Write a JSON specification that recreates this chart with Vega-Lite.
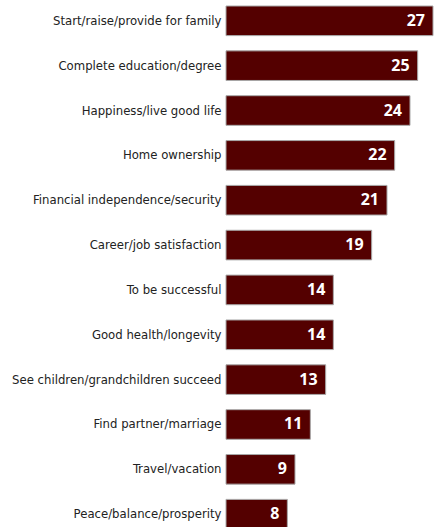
{
  "$schema": "https://vega.github.io/schema/vega-lite/v6.json",
  "autosize": "none",
  "padding": {"left": 226, "top": 0, "right": 7, "bottom": 0},
  "width": 207,
  "height": 535,
  "background": "white",
  "config": {"view": {"stroke": null}},
  "data": {"values": [
    {"goal": "Start/raise/provide for family", "pct": 27},
    {"goal": "Complete education/degree", "pct": 25},
    {"goal": "Happiness/live good life", "pct": 24},
    {"goal": "Home ownership", "pct": 22},
    {"goal": "Financial independence/security", "pct": 21},
    {"goal": "Career/job satisfaction", "pct": 19},
    {"goal": "To be successful", "pct": 14},
    {"goal": "Good health/longevity", "pct": 14},
    {"goal": "See children/grandchildren succeed", "pct": 13},
    {"goal": "Find partner/marriage", "pct": 11},
    {"goal": "Travel/vacation", "pct": 9},
    {"goal": "Peace/balance/prosperity", "pct": 8}
  ]},
  "encoding": {
    "y": {
      "field": "goal", "type": "nominal", "sort": null,
      "scale": {"paddingInner": 0.34, "paddingOuter": 0.134},
      "axis": {"title": null, "domain": false, "ticks": false, "labelPadding": 5,
               "labelFont": "DejaVu Sans Condensed, Roboto Condensed, Liberation Sans Narrow, sans-serif", "labelFontSize": 13, "labelColor": "#222222", "labelLimit": 300}
    },
    "x": {"field": "pct", "type": "quantitative", "scale": {"domain": [0, 27], "nice": false}, "axis": null}
  },
  "layer": [
    {"mark": {"type": "bar", "color": "#540000", "stroke": "#a8a8a8", "strokeWidth": 1}},
    {"mark": {"type": "text", "align": "right", "dx": -8, "color": "white", "font": "Open Sans", "fontWeight": "bold", "fontSize": 16, "baseline": "middle"},
     "encoding": {"text": {"field": "pct", "type": "quantitative"}}}
  ]
}
